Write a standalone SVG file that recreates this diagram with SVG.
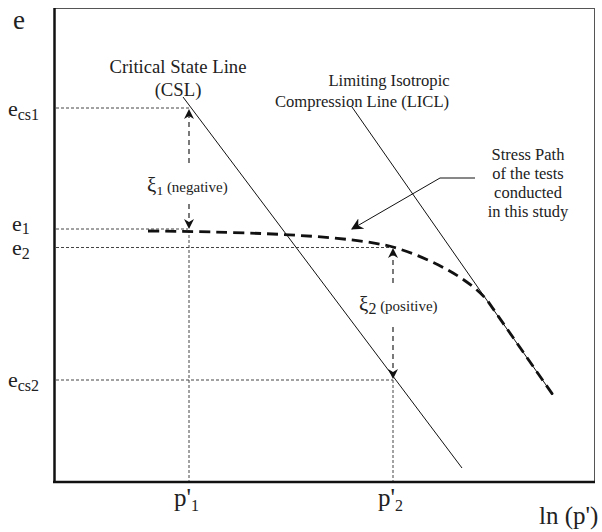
<svg xmlns="http://www.w3.org/2000/svg" width="602" height="532" viewBox="0 0 602 532">
<style>
text{font-family:"Liberation Serif","DejaVu Serif","Times New Roman",serif;fill:#222}
.lbl{font-size:18.7px}
.licl{font-size:16.6px}
.sp{font-size:16.5px}
.ax{font-size:22px}
.sub{font-size:16px}
.pl{font-size:25px}
.psub{font-size:16px}
.guide{stroke:#444;stroke-width:1;stroke-dasharray:3,2;fill:none}
.arr{stroke:#222;stroke-width:1.2;stroke-dasharray:5,4;fill:none}
.solid{stroke:#111;stroke-width:1;fill:none}
</style>
<defs>
<marker id="ah" viewBox="0 0 10 10" refX="9" refY="5" markerWidth="10" markerHeight="10" markerUnits="userSpaceOnUse" orient="auto">
<path d="M0,0 L10,5 L0,10 L3,5 Z" fill="#111"/>
</marker>
<marker id="ah2" viewBox="0 0 10 10" refX="9" refY="5" markerWidth="12" markerHeight="12" markerUnits="userSpaceOnUse" orient="auto">
<path d="M0,0 L10,5 L0,10 L3,5 Z" fill="#111"/>
</marker>
</defs>
<rect x="0" y="0" width="602" height="532" fill="#fff"/>
<g id="frame">
<rect x="54.5" y="8.5" width="540" height="474" fill="none" stroke="#555" stroke-width="1"/>
<line x1="54.5" y1="8" x2="54.5" y2="483" stroke="#111" stroke-width="2.5"/>
<line x1="53" y1="482" x2="595" y2="482" stroke="#111" stroke-width="2.5"/>
</g>
<g id="guides">
<line class="guide" x1="56" y1="108" x2="190" y2="108"/>
<line class="guide" x1="56" y1="229" x2="188" y2="229"/>
<line class="guide" x1="56" y1="247.5" x2="393" y2="247.5"/>
<line class="guide" x1="56" y1="380" x2="393" y2="380"/>
<line class="guide" x1="189" y1="230" x2="189" y2="481"/>
<line class="guide" x1="393" y1="380" x2="393" y2="481"/>
</g>
<g id="csl"><line class="solid" x1="183" y1="97" x2="462" y2="468"/></g>
<g id="licl"><line class="solid" x1="352" y1="107" x2="553" y2="395"/></g>
<g id="stress-path">
<path d="M148,231 C260,232 350,236 393,247 C430,258 468,278 487,300 L553,395" fill="none" stroke="#111" stroke-width="2.8" stroke-dasharray="11,6"/>
</g>
<g id="connectors">
<line class="arr" x1="189" y1="163" x2="189" y2="110" marker-end="url(#ah)"/>
<line class="arr" x1="189" y1="204" x2="189" y2="228" marker-end="url(#ah)"/>
<line class="arr" x1="393" y1="283" x2="393" y2="249" marker-end="url(#ah)"/>
<line class="arr" x1="393" y1="327" x2="393" y2="378" marker-end="url(#ah)"/>
<polyline points="475,178 440,178 352,229" fill="none" stroke="#111" stroke-width="1" marker-end="url(#ah2)"/>
</g>
<g id="labels" font-family="'Liberation Serif','DejaVu Serif',serif">
<text x="13" y="29" font-size="27">e</text>
<text class="ax" x="8" y="116">e<tspan class="sub" dy="4">cs1</tspan></text>
<text class="ax" x="12" y="231">e<tspan class="sub" dy="3">1</tspan></text>
<text class="ax" x="12" y="255">e<tspan class="sub" dy="4">2</tspan></text>
<text class="ax" x="8" y="387">e<tspan class="sub" dy="4">cs2</tspan></text>
<text class="lbl" x="178" y="73" text-anchor="middle">Critical State Line</text>
<text class="lbl" x="178" y="96" text-anchor="middle">(CSL)</text>
<text class="licl" x="389" y="86" text-anchor="middle">Limiting Isotropic</text>
<text class="licl" x="362" y="107" text-anchor="middle">Compression Line (LICL)</text>
<text class="sp" x="528" y="160" text-anchor="middle">Stress Path</text>
<text class="sp" x="528" y="179" text-anchor="middle">of the tests</text>
<text class="sp" x="528" y="198" text-anchor="middle">conducted</text>
<text class="sp" x="528" y="217" text-anchor="middle">in this study</text>
<text x="147" y="192" font-size="21">ξ<tspan font-size="13.5" dy="3">1</tspan><tspan font-size="15" dy="-3"> (negative)</tspan></text>
<text x="359" y="311" font-size="21">ξ<tspan font-size="16" dy="3">2</tspan><tspan font-size="15" dy="-3"> (positive)</tspan></text>
<text class="pl" x="174" y="506">p'<tspan class="psub" dy="5">1</tspan></text>
<text class="pl" x="378" y="506">p'<tspan class="psub" dy="5">2</tspan></text>
<text class="pl" x="539" y="524">ln (p')</text>
</g>
</svg>
